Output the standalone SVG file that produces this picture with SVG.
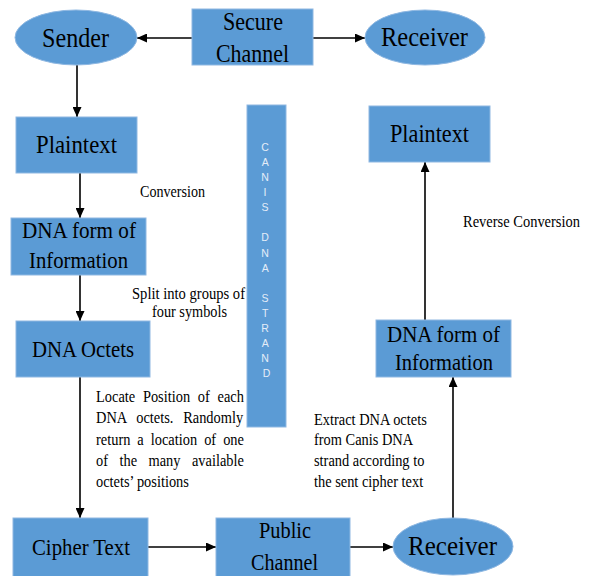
<svg xmlns="http://www.w3.org/2000/svg" width="591" height="576" viewBox="0 0 591 576">
  <defs>
    <marker id="arrow" markerUnits="userSpaceOnUse" markerWidth="11" markerHeight="9" refX="10" refY="4.5" orient="auto">
      <path d="M0,0 L10,4.5 L0,9 Z" fill="#000"/>
    </marker>
  </defs>
  <style>
    .box { fill: #5b9bd5; stroke: #8fb8e2; stroke-width: 1; }
    text.lbl { font-family: "Times New Roman", "Liberation Serif", serif; fill: #000; }
    text.note { font-family: "Liberation Serif", "DejaVu Serif", serif; font-size: 16px; fill: #000; }
    .edge { stroke: #000; stroke-width: 1.6; fill: none; marker-end: url(#arrow); }
    text.strand { font-family: "Liberation Sans", Arial, sans-serif; font-size: 10.5px; fill: #e4edf8; text-anchor: middle; }
  </style>
  <rect width="591" height="576" fill="#fff"/>

  <!-- connectors -->
  <g id="connectors">
    <line class="edge" x1="192" y1="38" x2="137" y2="38"/>
    <line class="edge" x1="313" y1="38" x2="365" y2="38"/>
    <line class="edge" x1="77" y1="65" x2="77" y2="117"/>
    <line class="edge" x1="80" y1="173" x2="80" y2="218"/>
    <line class="edge" x1="80" y1="275" x2="80" y2="321"/>
    <line class="edge" x1="80" y1="377" x2="80" y2="518"/>
    <line class="edge" x1="148" y1="547" x2="216" y2="547"/>
    <line class="edge" x1="350" y1="547" x2="393" y2="547"/>
    <line class="edge" x1="453" y1="518" x2="453" y2="377"/>
    <line class="edge" x1="425" y1="320" x2="425" y2="162"/>
  </g>

  <!-- node labels: left-aligned at measured start, squeezed to measured width -->
  <g id="sender">
    <ellipse class="box" cx="76" cy="37.5" rx="61" ry="27.5"/>
    <text class="lbl" x="42" y="47" font-size="27" textLength="67" lengthAdjust="spacingAndGlyphs">Sender</text>
  </g>
  <g id="secure-channel">
    <rect class="box" x="192" y="9" width="121" height="56"/>
    <text class="lbl" x="223" y="30" font-size="25" textLength="60" lengthAdjust="spacingAndGlyphs">Secure</text>
    <text class="lbl" x="216" y="62" font-size="25" textLength="73" lengthAdjust="spacingAndGlyphs">Channel</text>
  </g>
  <g id="receiver-top">
    <ellipse class="box" cx="425" cy="37.5" rx="60" ry="27.5"/>
    <text class="lbl" x="381" y="46" font-size="27" textLength="87" lengthAdjust="spacingAndGlyphs">Receiver</text>
  </g>

  <g id="plaintext-left">
    <rect class="box" x="16" y="117" width="121" height="56"/>
    <text class="lbl" x="36" y="153" font-size="25" textLength="81" lengthAdjust="spacingAndGlyphs">Plaintext</text>
  </g>
  <g id="dna-form-left">
    <rect class="box" x="11" y="218" width="135" height="57"/>
    <text class="lbl" x="22" y="238" font-size="23" textLength="114" lengthAdjust="spacingAndGlyphs">DNA form of</text>
    <text class="lbl" x="29" y="268" font-size="23" textLength="99" lengthAdjust="spacingAndGlyphs">Information</text>
  </g>
  <g id="dna-octets">
    <rect class="box" x="16" y="321" width="134" height="56"/>
    <text class="lbl" x="32" y="357" font-size="23" textLength="102" lengthAdjust="spacingAndGlyphs">DNA Octets</text>
  </g>
  <g id="cipher-text">
    <rect class="box" x="13" y="518" width="135" height="60"/>
    <text class="lbl" x="32" y="555" font-size="23" textLength="98" lengthAdjust="spacingAndGlyphs">Cipher Text</text>
  </g>
  <g id="public-channel">
    <rect class="box" x="216" y="518" width="134" height="60"/>
    <text class="lbl" x="259" y="538" font-size="23" textLength="52" lengthAdjust="spacingAndGlyphs">Public</text>
    <text class="lbl" x="251" y="570" font-size="23" textLength="67" lengthAdjust="spacingAndGlyphs">Channel</text>
  </g>

  <g id="receiver-bottom">
    <ellipse class="box" cx="453" cy="546.5" rx="60" ry="28.5"/>
    <text class="lbl" x="408" y="555" font-size="27" textLength="89" lengthAdjust="spacingAndGlyphs">Receiver</text>
  </g>
  <g id="dna-form-right">
    <rect class="box" x="376" y="320" width="135" height="57"/>
    <text class="lbl" x="387" y="342" font-size="23" textLength="113" lengthAdjust="spacingAndGlyphs">DNA form of</text>
    <text class="lbl" x="395" y="370" font-size="23" textLength="98" lengthAdjust="spacingAndGlyphs">Information</text>
  </g>
  <g id="plaintext-right">
    <rect class="box" x="369" y="106" width="121" height="56"/>
    <text class="lbl" x="390" y="142" font-size="25" textLength="79" lengthAdjust="spacingAndGlyphs">Plaintext</text>
  </g>

  <!-- key strand -->
  <g id="canis-dna-strand">
    <rect class="box" x="247" y="105" width="39" height="322"/>
    <text class="strand">
      <tspan x="266.5" y="151">C</tspan>
      <tspan x="266.5" y="166.1">A</tspan>
      <tspan x="266.5" y="181.1">N</tspan>
      <tspan x="266.5" y="196.2">I</tspan>
      <tspan x="266.5" y="211.3">S</tspan>
      <tspan x="266.5" y="241.4">D</tspan>
      <tspan x="266.5" y="256.5">N</tspan>
      <tspan x="266.5" y="271.6">A</tspan>
      <tspan x="266.5" y="301.7">S</tspan>
      <tspan x="266.5" y="316.8">T</tspan>
      <tspan x="266.5" y="331.8">R</tspan>
      <tspan x="266.5" y="346.9">A</tspan>
      <tspan x="266.5" y="362">N</tspan>
      <tspan x="266.5" y="377.1">D</tspan>
    </text>
  </g>

  <!-- step annotations -->
  <g id="annotations">
    <text class="note" x="140" y="197" textLength="65" lengthAdjust="spacingAndGlyphs">Conversion</text>
    <text class="note" x="132" y="299" textLength="113" lengthAdjust="spacingAndGlyphs">Split into groups of</text>
    <text class="note" x="152" y="317" textLength="75" lengthAdjust="spacingAndGlyphs">four symbols</text>
    <text class="note" x="463" y="227" textLength="117" lengthAdjust="spacingAndGlyphs">Reverse Conversion</text>

    <g transform="scale(0.9 1)">
      <text class="note" x="106.67" y="402" style="word-spacing:4.59px">Locate Position of each</text>
      <text class="note" x="106.67" y="423.5" style="word-spacing:6.89px">DNA octets. Randomly</text>
      <text class="note" x="106.67" y="445" style="word-spacing:3.78px">return a location of one</text>
      <text class="note" x="106.67" y="466.5" style="word-spacing:8.74px">of the many available</text>
      <text class="note" x="106.67" y="487">octets’ positions</text>

      <text class="note" x="348.89" y="425">Extract DNA octets</text>
      <text class="note" x="348.89" y="445.5">from Canis DNA</text>
      <text class="note" x="348.89" y="466">strand according to</text>
      <text class="note" x="348.89" y="487">the sent cipher text</text>
    </g>
  </g>
</svg>
